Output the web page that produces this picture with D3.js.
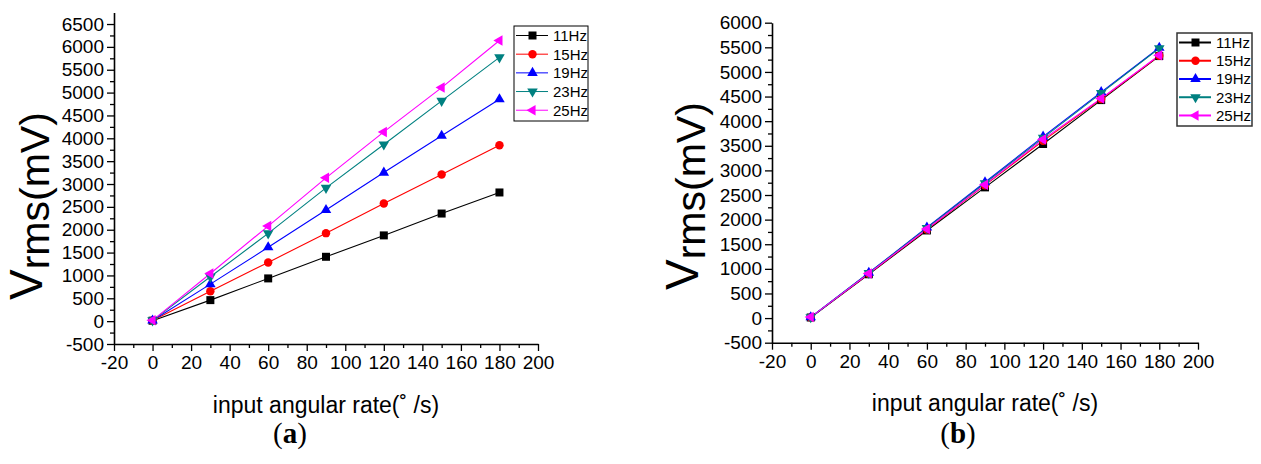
<!DOCTYPE html>
<html>
<head>
<meta charset="utf-8">
<script src="https://cdn.jsdelivr.net/npm/d3@7"></script>
<style>
  body { margin: 0; background: #fff; }
  svg { display: block; font-family: "Liberation Sans", Arial, sans-serif; }
</style>
</head>
<body>
<script>
// angular rate inputs (deg/s)
const xValues = [0, 30, 60, 90, 120, 150, 180];
const seriesNames = ["11Hz", "15Hz", "19Hz", "23Hz", "25Hz"];
const seriesColors = ["#000000", "#ff0000", "#0000ff", "#008080", "#ff00ff"];

// panel (a) Vrms in mV
const a11Hz = [10, 460, 935, 1408, 1876, 2354, 2815];
const a15Hz = [12, 655, 1285, 1925, 2575, 3210, 3850];
const a19Hz = [14, 810, 1615, 2430, 3250, 4055, 4855];
const a23Hz = [16, 970, 1920, 2915, 3865, 4820, 5770];
const a25Hz = [18, 1043, 2080, 3135, 4140, 5110, 6140];

// panel (b) Vrms in mV
const b11Hz = [12, 890, 1780, 2655, 3536, 4428, 5322];
const b15Hz = [14, 900, 1800, 2700, 3600, 4450, 5330];
const b19Hz = [16, 920, 1840, 2760, 3685, 4590, 5490];
const b23Hz = [18, 915, 1830, 2740, 3660, 4570, 5480];
const b25Hz = [20, 905, 1810, 2710, 3630, 4460, 5340];

const xTicks = d3.range(-20, 201, 20);
const yTicksA = d3.range(-500, 6501, 500);
const yTicksB = d3.range(-500, 6001, 500);

const w = 1261, h = 464;
const svg = d3.select("body").append("svg")
  .attr("width", w)
  .attr("height", h);

const symbols = [
  {type: d3.symbolSquare, size: 64, rot: 0},
  {type: d3.symbolCircle, size: 56, rot: 0},
  {type: d3.symbolTriangle, size: 48, rot: 0},
  {type: d3.symbolTriangle, size: 48, rot: 180},
  {type: d3.symbolTriangle, size: 48, rot: -90}
];

drawPanel({
  left: 114, right: 538, top: 12.6, bottom: 344,
  yDomain: [-500, 6750], yTicks: yTicksA,
  series: [a11Hz, a15Hz, a19Hz, a23Hz, a25Hz],
  legend: {x: 514, y: 26, w: 74, h: 95, stroke: "#000", sw: 1, lineW: 1},
  ylab: {x: 42, y: 300},
  xlabY: 413, tag: "(a)", tagX: 290
});

drawPanel({
  left: 772, right: 1198, top: 22.7, bottom: 342.7,
  yDomain: [-500, 6000], yTicks: yTicksB,
  series: [b11Hz, b15Hz, b19Hz, b23Hz, b25Hz],
  legend: {x: 1177, y: 33, w: 75, h: 93, stroke: "#333", sw: 1.5, lineW: 2},
  ylab: {x: 698, y: 290},
  xlabY: 411, tag: "(b)", tagX: 958
});

function drawPanel(p) {
  const x = d3.scaleLinear().domain([-20, 200]).range([p.left, p.right]);
  const y = d3.scaleLinear().domain(p.yDomain).range([p.bottom, p.top]);
  const g = svg.append("g");

  // minor ticks
  const xMinor = d3.range(-10, 200, 20);
  const yMinor = d3.range(-250, p.yDomain[1], 500);
  g.append("g")
    .attr("transform", `translate(0,${p.bottom})`)
    .call(d3.axisBottom(x).tickValues(xMinor).tickSize(4).tickFormat(""))
    .call(a => a.select(".domain").remove())
    .selectAll("line").attr("stroke-width", 1.3);
  g.append("g")
    .attr("transform", `translate(${p.left},0)`)
    .call(d3.axisLeft(y).tickValues(yMinor).tickSize(4).tickFormat(""))
    .call(a => a.select(".domain").remove())
    .selectAll("line").attr("stroke-width", 1.3);

  // x axis
  const xa = g.append("g")
    .attr("transform", `translate(0,${p.bottom})`)
    .call(d3.axisBottom(x).tickValues(xTicks).tickSize(7).tickSizeOuter(0).tickPadding(5).tickFormat(d => d));
  xa.select(".domain").attr("stroke-width", 1.6);
  xa.selectAll("line").attr("stroke-width", 1.3);
  xa.selectAll("text").attr("font-size", 19).attr("font-family", "Liberation Sans, Arial").attr("fill", "#000");

  // y axis
  const ya = g.append("g")
    .attr("transform", `translate(${p.left},0)`)
    .call(d3.axisLeft(y).tickValues(p.yTicks).tickSize(7).tickSizeOuter(0).tickPadding(3).tickFormat(d => d));
  ya.select(".domain").attr("stroke-width", 1.6);
  ya.selectAll("line").attr("stroke-width", 1.3);
  ya.selectAll("text").attr("font-size", 19).attr("font-family", "Liberation Sans, Arial").attr("fill", "#000");

  const line = d3.line().x((d, i) => x(xValues[i])).y(d => y(d));

  p.series.forEach((vals, k) => {
    g.append("path")
      .datum(vals)
      .attr("fill", "none")
      .attr("stroke", seriesColors[k])
      .attr("stroke-width", 1.1)
      .attr("d", line);
  });
  p.series.forEach((vals, k) => {
    const s = symbols[k];
    g.selectAll(null)
      .data(vals)
      .enter().append("path")
      .attr("d", d3.symbol().type(s.type).size(s.size))
      .attr("transform", (d, i) => `translate(${x(xValues[i])},${y(d)}) rotate(${s.rot})`)
      .attr("fill", seriesColors[k]);
  });

  // legend
  const L = p.legend;
  const lg = g.append("g");
  lg.append("rect")
    .attr("x", L.x).attr("y", L.y).attr("width", L.w).attr("height", L.h)
    .attr("fill", "#fff").attr("stroke", L.stroke).attr("stroke-width", L.sw);
  const rowH = (L.h - 10) / 4.55;
  seriesNames.forEach((name, k) => {
    const cy = L.y + 9.5 + k * rowH;
    lg.append("line")
      .attr("x1", L.x + 2).attr("x2", L.x + 34)
      .attr("y1", cy).attr("y2", cy)
      .attr("stroke", seriesColors[k]).attr("stroke-width", L.lineW);
    const s = symbols[k];
    lg.append("path")
      .attr("d", d3.symbol().type(s.type).size(s.size))
      .attr("transform", `translate(${L.x + 18.5},${cy}) rotate(${s.rot})`)
      .attr("fill", seriesColors[k]);
    lg.append("text")
      .attr("x", L.x + 39).attr("y", cy + 5.5)
      .attr("font-size", 15)
      .text(name);
  });

  // y label
  const yl = g.append("text")
    .attr("transform", `translate(${p.ylab.x},${p.ylab.y}) rotate(-90)`)
    .attr("fill", "#000");
  yl.append("tspan").attr("font-size", 46).text("V");
  yl.append("tspan").attr("font-size", 41).attr("dy", 7).text("rms(mV)");

  // x label
  g.append("text")
    .attr("x", (p.left + p.right) / 2)
    .attr("y", p.xlabY)
    .attr("text-anchor", "middle")
    .attr("font-size", 23)
    .text("input angular rate(\u02da /s)");

  // panel tag
  const t = g.append("text")
    .attr("x", p.tagX).attr("y", 443)
    .attr("text-anchor", "middle")
    .attr("font-family", "Liberation Serif, Times New Roman, serif")
    .attr("font-weight", "bold")
    .attr("font-size", 29);
  t.append("tspan").attr("font-weight", "normal").text("(");
  t.append("tspan").text(p.tag.slice(1, 2));
  t.append("tspan").attr("font-weight", "normal").text(")");
}
</script>
</body>
</html>
